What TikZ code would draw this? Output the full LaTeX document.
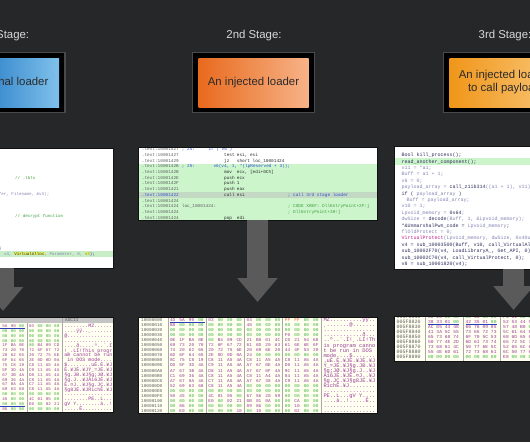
\documentclass[tikz,border=0pt]{standalone}
\usepackage{fontspec}
\setmainfont{Liberation Sans}
\setmonofont{Liberation Mono}
\usetikzlibrary{arrows.meta}
\definecolor{bgc}{HTML}{262729}
\definecolor{lbl}{HTML}{D9D9D9}
\definecolor{frg}{HTML}{4A4A4A}
\definecolor{boxt}{HTML}{2A2A2A}
\definecolor{bl1}{HTML}{0B66BA}
\definecolor{bl2}{HTML}{7FC1EB}
\definecolor{or1}{HTML}{E86A1E}
\definecolor{or2}{HTML}{F7B388}
\definecolor{yo1}{HTML}{F0961A}
\definecolor{yo2}{HTML}{F9C677}
\definecolor{arrc}{HTML}{5A5A5A}
\definecolor{pbd}{HTML}{111111}
\definecolor{cgreen}{HTML}{CCF5CC}
\definecolor{chl}{HTML}{C3D9C3}
\definecolor{caddr}{HTML}{5E5E5E}
\definecolor{cmn}{HTML}{2A2A2A}
\definecolor{cblue}{HTML}{2E4FD0}
\definecolor{ccom}{HTML}{3E9E3E}
\definecolor{hexbg}{HTML}{FFFFF2}
\definecolor{hexhd}{HTML}{C4C4C4}
\definecolor{hexdv}{HTML}{A8A8A8}
\definecolor{hz}{HTML}{3BB03B}
\definecolor{hn}{HTML}{9A3A9A}
\definecolor{hf}{HTML}{E0602A}
\definecolor{selb}{HTML}{2B3FB8}
\definecolor{rc1}{HTML}{2E2E5E}
\definecolor{rc2}{HTML}{8686B6}
\definecolor{rmag}{HTML}{C2208C}
\definecolor{hly}{HTML}{E6F25A}
\definecolor{lgreen}{HTML}{C8EEC8}
\tikzset{
  stagelbl/.style={text=lbl, font=\fontsize{11.4}{13}\selectfont, inner sep=0},
  frame/.style={draw=frg, fill=black, line width=1.3pt, minimum width=121.7pt, minimum height=59.7pt, inner sep=0},
  inbox/.style={minimum width=110pt, minimum height=49pt, inner sep=0, text=boxt, align=center, font=\fontsize{11.4}{13}\selectfont},
  panel/.style={inner sep=0, outer sep=0},
  pborder/.style={draw=pbd, line width=0.8pt},
  ctx/.style={anchor=base west, inner sep=0},
  mf/.style={font=\fontsize{4.4}{5}\ttfamily, yshift=-1.45pt},
  lf/.style={font=\fontsize{4.2}{5}\ttfamily, yshift=-1.4pt},
  rf/.style={font=\fontsize{5}{6}\ttfamily, yshift=-1.65pt},
  hxb/.style={anchor=base, inner sep=0, font=\fontsize{4.4}{5}\ttfamily, yshift=-1.45pt},
  lhxb/.style={anchor=base, inner sep=0, font=\fontsize{4.2}{5}\ttfamily, yshift=-1.4pt},
  rhxb/.style={anchor=base, inner sep=0, font=\fontsize{4.6}{5}\ttfamily, yshift=-1.5pt},
  hxa/.style={anchor=base west, inner sep=0, text=caddr, font=\fontsize{4.4}{5}\ttfamily, yshift=-1.45pt},
  rhxa/.style={anchor=base west, inner sep=0, text=caddr, font=\fontsize{5}{6}\ttfamily, yshift=-1.6pt},
  hxs/.style={anchor=base west, inner sep=0, text=hn, font=\fontsize{5.4}{6}\ttfamily, yshift=-1.7pt},
  lhxs/.style={anchor=base west, inner sep=0, text=hn, font=\fontsize{5}{6}\ttfamily, yshift=-1.6pt},
  divl/.style={draw=hexdv, line width=0.5pt},
  selline/.style={draw=selb, line width=0.6pt},
  bigarrow/.style={draw=arrc, line width=21pt, -{Triangle[length=24pt,width=39pt]}},
}
\def\hzero{00}\def\hff{FF}
\newcommand\hb[1]{\edef\hbtmp{#1}\ifx\hbtmp\hzero\textcolor{hz}{#1}\else\ifx\hbtmp\hff\textcolor{hf}{#1}\else\textcolor{hn}{#1}\fi\fi}
\newcommand\ct[6][mf]{\node[ctx,#1,text=#5] (#2) at (#3,#4) {#6};}
\newcommand\mhexrow[4]{%
  \pgfmathsetmacro\ry{320+5.06*#1}%
  \node[hxa] (mha#1) at (141,\ry) {#2};%
  \foreach \b [count=\k from 0] in {#3} {%
    \pgfmathsetmacro\bx{172.7+38.3*floor(\k/4)+9.4*mod(\k,4)}%
    \node[hxb] (mhb#1-\k) at (\bx,\ry) {\hb{\b}};}%
  \node[hxs] (mhs#1) at (323.3,\ry) {#4};}
\newcommand\lhexrow[3]{%
  \pgfmathsetmacro\ry{326+4.88*#1}%
  \foreach \b [count=\k from 0] in {#2} {%
    \pgfmathsetmacro\bx{-3.35+8.35*mod(\k,4)+35.05*floor(\k/4)}%
    \node[lhxb] (lhb#1-\k) at (\bx,\ry) {\hb{\b}};}%
  \node[lhxs] (lhs#1) at (64.2,\ry) {#3};}
\newcommand\rhexrow[3]{%
  \pgfmathsetmacro\ry{316.7+5.04*#1}%
  \node[rhxa] (rha#1) at (396.5,\ry) {#2};%
  \foreach \b [count=\k from 0] in {#3} {%
    \pgfmathsetmacro\bx{430.8+8.45*mod(\k,4)+37.6*floor(\k/4)}%
    \node[rhxb] (rhb#1-\k) at (\bx,\ry) {\hb{\b}};}}
\begin{document}
\begin{tikzpicture}[x=1pt,y=-1pt]
\useasboundingbox (0,0) rectangle (530,442);
\clip (0,0) rectangle (530,442);
\fill[bgc] (0,0) rectangle (530,442);

% stage labels
\node[stagelbl] (s1) at (3.5,36) {1st Stage:};
\node[stagelbl] (s2) at (254,36) {2nd Stage:};
\node[stagelbl] (s3) at (505,36) {3rd Stage:};

% stage boxes
\node[frame] (f1) at (4,82.5) {};
\node[inbox, left color=bl1, right color=bl2] (b1) at (f1.center) {An original loader};
\node[frame] (f2) at (253.5,82.5) {};
\node[inbox, left color=or1, right color=or2] (b2) at (f2.center) {An injected loader};
\node[frame] (f3) at (504.5,82.5) {};
\node[inbox, left color=yo1, right color=yo2] (b3) at (f3.center) {An injected loader\\to call payload};

% ================= left code panel
\node[panel, fill=white, anchor=north east, minimum width=239pt, minimum height=120pt] (lcode) at (113,148) {};
\begin{scope}
\clip (lcode.north west) rectangle (lcode.south east);
\fill[lgreen] (-130,251) rectangle (113,256.5);
\ct[lf]{l1}{15}{178.3}{ccom}{// .tbls}
\node[ctx,lf,text=rc2,anchor=base east] (l2) at (49.5,194.3) {(lpBuffer, Filename, \&v3);};
\ct[lf]{l3}{15}{216}{ccom}{// decrypt function}
\node[ctx,lf,text=rc1,anchor=base east] (l4) at (2,247.7) {;};
\ct[lf]{l5}{4}{253.6}{rc2}{v3, {\setlength\fboxsep{0pt}\colorbox{hly}{\textcolor{rc1}{VirtualAlloc}}}, Parameter, 0, {\setlength\fboxsep{0pt}\colorbox{hly}{v3}}\textcolor{rc1}{);}}
\end{scope}
\draw[pborder] (lcode.north west) rectangle (lcode.south east);

% ================= middle code panel
\node[panel, fill=white, anchor=north west, minimum width=239pt, minimum height=73pt] (mcode) at (138,147) {};
\begin{scope}
\clip (mcode.north west) rectangle (mcode.south east);
\fill[cgreen] (138,163.5) rectangle (377,220);
\fill[chl] (138,192) rectangle (377,197.6);
\def\mA{141.7}\def\mL{181.7}\def\mM{224}\def\mO{236.7}\def\mC{287.7}
\ct{m0a}{\mA}{149.3}{caddr}{.text:10001427}
\ct{m0l}{\mL}{149.3}{cblue}{; 24:}
\ct{m0p}{208.3}{149.3}{cblue}{if ( v6 )}
\ct{m1a}{\mA}{155.0}{caddr}{.text:10001427}
\ct{m1m}{\mM}{155.0}{cmn}{test}
\ct{m1o}{\mO}{155.0}{cmn}{esi, esi}
\ct{m2a}{\mA}{160.7}{caddr}{.text:10001429}
\ct{m2m}{\mM}{160.7}{cmn}{jz}
\ct{m2o}{\mO}{160.7}{cmn}{short loc\_10001424}
\ct{m3a}{\mA}{166.4}{caddr}{.text:1000142B}
\ct{m3l}{\mL}{166.4}{cblue}{; 25:}
\ct{m3p}{213.3}{166.4}{cblue}{v6(v4, 1, *(lpReserved + 3));}
\ct{m4a}{\mA}{172.1}{caddr}{.text:1000142B}
\ct{m4m}{\mM}{172.1}{cmn}{mov}
\ct{m4o}{\mO}{172.1}{cmn}{ecx, [edi+0Ch]}
\ct{m5a}{\mA}{177.8}{caddr}{.text:1000142E}
\ct{m5m}{\mM}{177.8}{cmn}{push}
\ct{m5o}{\mO}{177.8}{cmn}{ecx}
\ct{m6a}{\mA}{183.5}{caddr}{.text:1000142F}
\ct{m6m}{\mM}{183.5}{cmn}{push}
\ct{m6o}{\mO}{183.5}{cmn}{1}
\ct{m7a}{\mA}{189.2}{caddr}{.text:10001421}
\ct{m7m}{\mM}{189.2}{cmn}{push}
\ct{m7o}{\mO}{189.2}{cmn}{eax}
\ct{m8a}{\mA}{194.9}{cblue}{.text:10001422}
\ct{m8m}{\mM}{194.9}{cmn}{call}
\ct{m8o}{\mO}{194.9}{cmn}{esi}
\ct{m8c}{\mC}{194.9}{cblue}{; call 3rd stage loader}
\ct{m9a}{\mA}{200.6}{caddr}{.text:10001424}
\ct{m10a}{\mA}{206.3}{caddr}{.text:10001424}
\ct{m10l}{\mL}{206.3}{caddr}{loc\_10001424:}
\ct{m10c}{\mC}{206.3}{ccom}{; CODE XREF: DllEntryPoint+2F↑j}
\ct{m11a}{\mA}{212.0}{caddr}{.text:10001424}
\ct{m11c}{\mC}{212.0}{ccom}{; DllEntryPoint+39↑j}
\ct{m12a}{\mA}{217.7}{caddr}{.text:10001424}
\ct{m12m}{\mM}{217.7}{cmn}{pop}
\ct{m12o}{\mO}{217.7}{cmn}{edi}
\end{scope}
\draw[pborder] (mcode.north west) rectangle (mcode.south east);

% ================= right code panel
\node[panel, fill=white, anchor=north west, minimum width=239pt, minimum height=123pt] (rcode) at (394,146) {};
\begin{scope}
\clip (rcode.north west) rectangle (rcode.south east);
\fill[cgreen] (394,158.3) rectangle (633,164.5);
\def\rX{401.3}
\ct[rf]{r0}{\rX}{155}{rc1}{Bool kill\_process();}
\ct[rf]{r1}{\rX}{161.4}{rc1}{read\_another\_component();}
\ct[rf]{r2}{\rX}{167.8}{rc2}{v11 = *a1;}
\ct[rf]{r3}{\rX}{174.2}{rc2}{Buff = a1 + 1;}
\ct[rf]{r4}{\rX}{180.6}{rc2}{v6 = 0;}
\ct[rf]{r5}{\rX}{187}{rc2}{payload\_array = \textcolor{rc1}{call\_z1ib314}((a1 + 1), v11);}
\ct[rf]{r6}{\rX}{193.4}{rc1}{if ( \textcolor{rc2}{payload\_array} )}
\ct[rf]{r7}{406.3}{199.8}{rc2}{Buff = payload\_array;}
\ct[rf]{r8}{\rX}{206.2}{rc2}{v10 = 1;}
\ct[rf]{r9}{\rX}{212.6}{rc2}{Lpvoid\_memory = \textcolor{rc1}{0x64};}
\ct[rf]{r10}{\rX}{219}{rc2}{dwSize = \textcolor{rc1}{decode}(Buff, 1, \&Lpvoid\_memory);}
\ct[rf]{r11}{\rX}{225.4}{rc1}{*\&UnmarshalPwn\_code = \textcolor{rc2}{Lpvoid\_memory};}
\ct[rf]{r12}{\rX}{231.8}{rc2}{flOldProtect = 0;}
\ct[rf]{r13}{\rX}{238.2}{rc2}{\textcolor{rmag}{VirtualProtect}(Lpvoid\_memory, dwSize, 0x40u, \&flOldProtect);}
\ct[rf]{r14}{\rX}{244.6}{rc1}{v4 = sub\_10003500(Buff, v10, call\_VirtualAlloc);}
\ct[rf]{r15}{\rX}{251}{rc1}{sub\_10002F70(v4, LoadLibraryA\_, Get\_API, 0);}
\ct[rf]{r16}{\rX}{257.4}{rc1}{sub\_10002C70(v4, call\_VirtualProtect, 0);}
\ct[rf]{r17}{\rX}{263.8}{rc1}{v8 = sub\_10001820(v4);}
\end{scope}
\draw[pborder] (rcode.north west) rectangle (rcode.south east);

% ================= left hex panel
\node[panel, fill=hexbg, anchor=north east, minimum width=239pt, minimum height=95pt] (lhex) at (113,317) {};
\begin{scope}
\clip (lhex.north west) rectangle (lhex.south east);
\fill[hexhd] (-130,317) rectangle (113,322.8);
\node[anchor=base west, inner sep=0, text=caddr, font=\fontsize{4.4}{5}\ttfamily, yshift=-1.45pt] (lhdr) at (65,320) {ASCII};
\draw[divl] (27.3,322.8) -- (27.3,412);
\draw[divl] (62.3,317) -- (62.3,412);
\lhexrow{0}{4D,5A,90,00,03,00,00,00}{........MZ......}
\lhexrow{1}{B8,00,00,00,00,00,00,00}{....ÿÿ..¸.......}
\lhexrow{2}{00,00,00,00,00,00,00,00}{@...............}
\lhexrow{3}{00,00,00,00,00,00,00,00}{................}
\lhexrow{4}{0E,1F,BA,0E,00,B4,09,CD}{....ð.....º..´.Í}
\lhexrow{5}{69,73,20,70,72,6F,67,72}{!¸.LÍ!This~progr}
\lhexrow{6}{74,20,62,65,20,72,75,6E}{am~cannot~be~run}
\lhexrow{7}{6D,6F,64,65,2E,0D,0D,0A}{~in~DOS~mode....}
\lhexrow{8}{8C,75,C8,19,C8,11,A5,4A}{\$........uÈ.È.¥J}
\lhexrow{9}{DD,5F,3D,4A,C9,11,A5,4A}{È.¥JÈ.¥JÝ\_=JÉ.¥J}
\lhexrow{10}{A7,67,3B,4A,D8,11,A5,4A}{§g.JÐ.¥J§g;JØ.¥J}
\lhexrow{11}{C1,69,36,4A,C8,11,A5,4A}{§g.J..¥JÁi6JÈ.¥J}
\lhexrow{12}{A7,67,0A,4A,C7,11,A5,4A}{È.¤J..¥J§g.JÇ.¥J}
\lhexrow{13}{52,69,63,68,C8,11,A5,4A}{§g8JÉ.¥JRichÈ.¥J}
\lhexrow{14}{00,00,00,00,00,00,00,00}{................}
\lhexrow{15}{50,45,00,00,4C,01,05,00}{........PE..L...}
\lhexrow{16}{00,00,00,00,E0,00,02,21}{gV~Y........à..!}
\lhexrow{17}{00,86,00,00,00,00,00,00}{.....Ê..........}
\draw[selline] (-1,328.3) -- (25,328.3);
\draw[selline] (-1,406.7) -- (25,406.7);
\end{scope}
\draw[pborder] (lhex.north west) rectangle (lhex.south east);

% ================= middle hex panel
\node[panel, fill=hexbg, anchor=north west, minimum width=239pt, minimum height=96pt] (mhex) at (138,317) {};
\begin{scope}
\clip (mhex.north west) rectangle (mhex.south east);
\foreach \dx [count=\di] in {167.8,206.1,244.4,282.7,321} {\draw[divl] (\dx,317) -- (\dx,413);}
\mhexrow{0}{10000000}{4D,5A,90,00,03,00,00,00,04,00,00,00,FF,FF,00,00}{MZ..........ÿÿ..}
\mhexrow{1}{10000010}{B8,00,00,00,00,00,00,00,40,00,00,00,00,00,00,00}{¸.......@.......}
\mhexrow{2}{10000020}{00,00,00,00,00,00,00,00,00,00,00,00,00,00,00,00}{................}
\mhexrow{3}{10000030}{00,00,00,00,00,00,00,00,00,00,00,00,F0,00,00,00}{............ð...}
\mhexrow{4}{10000040}{0E,1F,BA,0E,00,B4,09,CD,21,B8,01,4C,CD,21,54,68}{..º..´.Í!¸.LÍ!Th}
\mhexrow{5}{10000050}{69,73,20,70,72,6F,67,72,61,6D,20,63,61,6E,6E,6F}{is~program~canno}
\mhexrow{6}{10000060}{74,20,62,65,20,72,75,6E,20,69,6E,20,44,4F,53,20}{t~be~run~in~DOS~}
\mhexrow{7}{10000070}{6D,6F,64,65,2E,0D,0D,0A,24,00,00,00,00,00,00,00}{mode....\$.......}
\mhexrow{8}{10000080}{8C,75,C8,19,C8,11,A5,4A,C8,11,A5,4A,C8,11,A5,4A}{.uÈ.È.¥JÈ.¥JÈ.¥J}
\mhexrow{9}{10000090}{DD,5F,3D,4A,C9,11,A5,4A,A7,67,0E,4A,D0,11,A5,4A}{Ý\_=JÉ.¥J§g.JÐ.¥J}
\mhexrow{10}{100000A0}{A7,67,3B,4A,D8,11,A5,4A,A7,67,0F,4A,9C,11,A5,4A}{§g;JØ.¥J§g.J..¥J}
\mhexrow{11}{100000B0}{C1,69,36,4A,C8,11,A5,4A,C8,11,A4,4A,84,11,A5,4A}{Ái6JÈ.¥JÈ.¤J..¥J}
\mhexrow{12}{100000C0}{A7,67,0A,4A,C7,11,A5,4A,A7,67,38,4A,C9,11,A5,4A}{§g.JÇ.¥J§g8JÉ.¥J}
\mhexrow{13}{100000D0}{52,69,63,68,C8,11,A5,4A,00,00,00,00,00,00,00,00}{RichÈ.¥J........}
\mhexrow{14}{100000E0}{00,00,00,00,00,00,00,00,00,00,00,00,00,00,00,00}{................}
\mhexrow{15}{100000F0}{50,45,00,00,4C,01,05,00,67,56,20,59,00,00,00,00}{PE..L...gV~Y....}
\mhexrow{16}{10000100}{00,00,00,00,E0,00,02,21,0B,01,0A,00,00,CA,00,00}{....à..!.....Ê..}
\mhexrow{17}{10000110}{00,86,00,00,00,00,00,00,89,86,00,00,00,10,00,00}{................}
\mhexrow{18}{10000120}{00,E0,00,00,00,00,00,10,00,10,00,00,00,02,00,00}{................}
\draw[selline] (169.5,322.3) -- (205,322.3);
\end{scope}
\draw[pborder] (mhex.north west) rectangle (mhex.south east);

% ================= right hex panel
\node[panel, fill=hexbg, anchor=north west, minimum width=239pt, minimum height=45pt] (rhex) at (394,316) {};
\begin{scope}
\clip (rhex.north west) rectangle (rhex.south east);
\foreach \dx in {425,463,500.6} {\draw[divl] (\dx,316) -- (\dx,361);}
\rhexrow{0}{005F8810}{30,28,00,00,00,48,00,00,F1,01,00,00}
\rhexrow{1}{005F8820}{38,33,01,00,42,35,01,00,52,53,44,53}
\rhexrow{2}{005F8830}{AC,05,44,48,66,76,09,85,57,48,B0,00}
\rhexrow{3}{005F8840}{41,3A,5C,55,73,65,72,73,5C,61,64,6D}
\rhexrow{4}{005F8850}{65,73,68,74,6F,70,5C,53,68,6D,65,65}
\rhexrow{5}{005F8860}{50,77,4E,2D,6D,61,73,74,65,72,5C,72}
\rhexrow{6}{005F8870}{73,68,61,4C,50,77,6E,5C,52,65,6C,65}
\rhexrow{7}{005F8880}{55,4E,6D,61,72,73,68,61,6C,50,77,6E}
\rhexrow{8}{005F8890}{00,00,00,00,00,00,00,00,E8,00,00,00}
\draw[selline] (428,324.3) -- (458.5,324.3);
\draw[selline] (466,324.3) -- (496.5,324.3);
\end{scope}
\draw[pborder] (rhex.north west) rectangle (rhex.south east);

% ================= arrows
\coordinate (la) at (3,268);
\draw[bigarrow] (la) -- (la |- 0,311);
\draw[bigarrow] (mcode.south) -- ([yshift=15pt]mhex.north);
\draw[bigarrow] (rcode.south) -- ([yshift=6pt]rhex.north);
\end{tikzpicture}
\end{document}
